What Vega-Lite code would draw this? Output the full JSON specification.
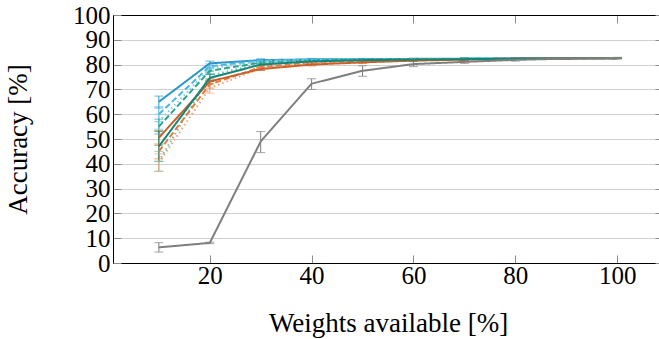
{
  "$schema": "https://vega.github.io/schema/vega-lite/v6.json",
  "width": 550,
  "height": 248,
  "autosize": {"type": "none"},
  "padding": {"left": 113, "top": 15, "right": 0, "bottom": 76},
  "background": "white",
  "config": {
    "view": {"stroke": null},
    "axis": {
      "labelFont": "'Liberation Serif', 'Times New Roman', Times, serif", "titleFont": "'Liberation Serif', 'Times New Roman', Times, serif",
      "labelFontSize": 25, "titleFontSize": 27, "labelColor": "black", "titleColor": "black",
      "titleFontWeight": "normal", "domainColor": "black", "domainWidth": 1,
      "labelOverlap": false, "labelFlush": false,
      "tickColor": "#8c8c8c", "gridColor": "#d0d0d0", "gridWidth": 1
    }
  },
  "data": {"values": [
    {"s":"b1","x":10,"y":65,"lo":62.5,"hi":67.3},{"s":"b1","x":20,"y":80.5,"lo":79.5,"hi":81.4},{"s":"b1","x":30,"y":81.8,"lo":81.3,"hi":82.3},{"s":"b1","x":40,"y":82.1,"lo":81.7,"hi":82.5},{"s":"b1","x":50,"y":82.2,"lo":81.9,"hi":82.5},{"s":"b1","x":60,"y":82.3,"lo":82,"hi":82.6},{"s":"b1","x":70,"y":82.4,"lo":82.1,"hi":82.7},{"s":"b1","x":80,"y":82.5,"lo":82.2,"hi":82.8},{"s":"b1","x":90,"y":82.6,"lo":82.4,"hi":82.8},{"s":"b1","x":100,"y":82.7,"lo":82.5,"hi":82.9},
    {"s":"b2","x":10,"y":60,"lo":57,"hi":63},{"s":"b2","x":20,"y":79.3,"lo":78.3,"hi":80.3},{"s":"b2","x":30,"y":81.6,"lo":81.1,"hi":82.1},{"s":"b2","x":40,"y":82,"lo":81.6,"hi":82.4},{"s":"b2","x":50,"y":82.1,"lo":81.8,"hi":82.4},{"s":"b2","x":60,"y":82.2,"lo":81.9,"hi":82.5},{"s":"b2","x":70,"y":82.3,"lo":82,"hi":82.6},{"s":"b2","x":80,"y":82.4,"lo":82.2,"hi":82.7},{"s":"b2","x":90,"y":82.5,"lo":82.3,"hi":82.7},{"s":"b2","x":100,"y":82.6,"lo":82.4,"hi":82.8},
    {"s":"b3","x":10,"y":57,"lo":54,"hi":60},{"s":"b3","x":20,"y":78.5,"lo":77.3,"hi":79.7},{"s":"b3","x":30,"y":81.3,"lo":80.8,"hi":81.8},{"s":"b3","x":40,"y":81.8,"lo":81.4,"hi":82.2},{"s":"b3","x":50,"y":82,"lo":81.7,"hi":82.3},{"s":"b3","x":60,"y":82.2,"lo":81.9,"hi":82.5},{"s":"b3","x":70,"y":82.3,"lo":82,"hi":82.6},{"s":"b3","x":80,"y":82.4,"lo":82.2,"hi":82.7},{"s":"b3","x":90,"y":82.5,"lo":82.3,"hi":82.7},{"s":"b3","x":100,"y":82.6,"lo":82.4,"hi":82.8},
    {"s":"t2","x":10,"y":55,"lo":52,"hi":58},{"s":"t2","x":20,"y":77.5,"lo":76.3,"hi":78.7},{"s":"t2","x":30,"y":80.8,"lo":80.3,"hi":81.3},{"s":"t2","x":40,"y":81.6,"lo":81.2,"hi":82},{"s":"t2","x":50,"y":82,"lo":81.7,"hi":82.3},{"s":"t2","x":60,"y":82.1,"lo":81.8,"hi":82.4},{"s":"t2","x":70,"y":82.3,"lo":82,"hi":82.6},{"s":"t2","x":80,"y":82.4,"lo":82.2,"hi":82.7},{"s":"t2","x":90,"y":82.5,"lo":82.3,"hi":82.7},{"s":"t2","x":100,"y":82.6,"lo":82.4,"hi":82.8},
    {"s":"t3","x":10,"y":41,"lo":37,"hi":45},{"s":"t3","x":20,"y":75.5,"lo":73.5,"hi":77.5},{"s":"t3","x":30,"y":80.5,"lo":79.9,"hi":81.1},{"s":"t3","x":40,"y":81.5,"lo":81.1,"hi":81.9},{"s":"t3","x":50,"y":81.9,"lo":81.6,"hi":82.2},{"s":"t3","x":60,"y":82.1,"lo":81.8,"hi":82.4},{"s":"t3","x":70,"y":82.3,"lo":82,"hi":82.6},{"s":"t3","x":80,"y":82.4,"lo":82.2,"hi":82.7},{"s":"t3","x":90,"y":82.5,"lo":82.3,"hi":82.7},{"s":"t3","x":100,"y":82.6,"lo":82.4,"hi":82.8},
    {"s":"o2","x":10,"y":45,"lo":42,"hi":48},{"s":"o2","x":20,"y":72,"lo":70.5,"hi":73.5},{"s":"o2","x":30,"y":79,"lo":78.4,"hi":79.6},{"s":"o2","x":40,"y":80.8,"lo":80.3,"hi":81.3},{"s":"o2","x":50,"y":81.5,"lo":81.1,"hi":81.9},{"s":"o2","x":60,"y":82,"lo":81.7,"hi":82.3},{"s":"o2","x":70,"y":82.2,"lo":81.9,"hi":82.5},{"s":"o2","x":80,"y":82.4,"lo":82.2,"hi":82.7},{"s":"o2","x":90,"y":82.5,"lo":82.3,"hi":82.7},{"s":"o2","x":100,"y":82.6,"lo":82.4,"hi":82.8},
    {"s":"o3","x":10,"y":40.5,"lo":37,"hi":44},{"s":"o3","x":20,"y":70.5,"lo":68.5,"hi":72.5},{"s":"o3","x":30,"y":78.5,"lo":77.8,"hi":79.2},{"s":"o3","x":40,"y":80.5,"lo":80,"hi":81},{"s":"o3","x":50,"y":81.3,"lo":80.9,"hi":81.7},{"s":"o3","x":60,"y":81.8,"lo":81.5,"hi":82.1},{"s":"o3","x":70,"y":82.2,"lo":81.9,"hi":82.5},{"s":"o3","x":80,"y":82.4,"lo":82.2,"hi":82.7},{"s":"o3","x":90,"y":82.5,"lo":82.3,"hi":82.7},{"s":"o3","x":100,"y":82.6,"lo":82.4,"hi":82.8},
    {"s":"o1","x":10,"y":50.5,"lo":47.5,"hi":53.5},{"s":"o1","x":20,"y":73.2,"lo":72.2,"hi":74.2},{"s":"o1","x":30,"y":78.2,"lo":77.6,"hi":78.8},{"s":"o1","x":40,"y":80,"lo":79.5,"hi":80.5},{"s":"o1","x":50,"y":80.9,"lo":80.5,"hi":81.3},{"s":"o1","x":60,"y":81.6,"lo":81.3,"hi":81.9},{"s":"o1","x":70,"y":82,"lo":81.7,"hi":82.3},{"s":"o1","x":80,"y":82.3,"lo":82.1,"hi":82.6},{"s":"o1","x":90,"y":82.5,"lo":82.3,"hi":82.7},{"s":"o1","x":100,"y":82.6,"lo":82.4,"hi":82.8},
    {"s":"t1","x":10,"y":47,"lo":41,"hi":53},{"s":"t1","x":20,"y":74.6,"lo":73.2,"hi":76},{"s":"t1","x":30,"y":80,"lo":79.5,"hi":80.5},{"s":"t1","x":40,"y":81.3,"lo":80.9,"hi":81.7},{"s":"t1","x":50,"y":81.8,"lo":81.5,"hi":82.1},{"s":"t1","x":60,"y":82,"lo":81.7,"hi":82.3},{"s":"t1","x":70,"y":82.2,"lo":81.9,"hi":82.5},{"s":"t1","x":80,"y":82.4,"lo":82.2,"hi":82.7},{"s":"t1","x":90,"y":82.5,"lo":82.3,"hi":82.7},{"s":"t1","x":100,"y":82.6,"lo":82.4,"hi":82.8},
    {"s":"g","x":10,"y":6.3,"lo":4.4,"hi":8.2},{"s":"g","x":20,"y":8.1,"lo":7.8,"hi":8.4},{"s":"g","x":30,"y":49,"lo":44.5,"hi":53},{"s":"g","x":40,"y":72.3,"lo":70,"hi":74.3},{"s":"g","x":50,"y":77.5,"lo":75.3,"hi":79.5},{"s":"g","x":60,"y":80.2,"lo":79.2,"hi":81.2},{"s":"g","x":70,"y":81.1,"lo":80.5,"hi":81.7},{"s":"g","x":80,"y":81.9,"lo":81.4,"hi":82.4},{"s":"g","x":90,"y":82.4,"lo":82.1,"hi":82.8},{"s":"g","x":100,"y":82.7,"lo":82.5,"hi":82.9}
  ]},
  "resolve": {"axis": {"x": "independent", "y": "independent"}},
  "layer": [
    {
      "mark": {"type": "rule", "strokeWidth": 1},
      "encoding": {
        "x": {"field": "x", "type": "quantitative", "scale": {"domain": [1, 109], "nice": false},
              "axis": {"orient": "top", "values": [20, 40, 60, 80, 100], "labels": false, "title": null, "grid": false, "tickSize": -8, "domain": true}},
        "y": {"field": "lo", "type": "quantitative", "scale": {"domain": [0, 100], "nice": false},
              "axis": {"orient": "right", "values": [0,10,20,30,40,50,60,70,80,90,100], "labels": false, "title": null, "grid": false, "tickSize": -8, "domain": true}},
        "y2": {"field": "hi"},
        "color": {"field": "s", "type": "nominal", "legend": null,
                  "scale": {"domain": ["b1","b2","b3","t2","t3","o2","o3","o1","t1","g"],
                            "range": ["#2a97cc","#49b6e4","#7fcbee","#2ba58f","#62c2ad","#e67a3c","#f2a27a","#c9622a","#10877a","#7f7f7f"]}}
      }
    },
    {
      "mark": {"type": "tick", "orient": "horizontal", "size": 9, "thickness": 1},
      "encoding": {
        "x": {"field": "x", "type": "quantitative", "scale": {"domain": [1, 109], "nice": false}, "axis": null},
        "y": {"field": "lo", "type": "quantitative", "scale": {"domain": [0, 100], "nice": false}, "axis": null},
        "color": {"field": "s", "type": "nominal", "legend": null}
      }
    },
    {
      "mark": {"type": "tick", "orient": "horizontal", "size": 9, "thickness": 1},
      "encoding": {
        "x": {"field": "x", "type": "quantitative", "scale": {"domain": [1, 109], "nice": false}, "axis": null},
        "y": {"field": "hi", "type": "quantitative", "scale": {"domain": [0, 100], "nice": false}, "axis": null},
        "color": {"field": "s", "type": "nominal", "legend": null}
      }
    },
    {
      "mark": {"type": "line", "strokeWidth": 2},
      "encoding": {
        "x": {"field": "x", "type": "quantitative", "scale": {"domain": [1, 109], "nice": false},
              "axis": {"orient": "bottom", "values": [20, 40, 60, 80, 100], "title": "Weights available [%]", "grid": false, "tickSize": -8, "labelPadding": 8, "titlePadding": 22}},
        "y": {"field": "y", "type": "quantitative", "scale": {"domain": [0, 100], "nice": false},
              "axis": {"orient": "left", "values": [0,10,20,30,40,50,60,70,80,90,100], "title": "Accuracy [%]", "grid": true, "tickSize": -8, "labelPadding": 11, "titlePadding": 40}},
        "color": {"field": "s", "type": "nominal", "legend": null},
        "strokeDash": {"field": "s", "type": "nominal", "legend": null,
                       "scale": {"domain": ["b1","b2","b3","t2","t3","o2","o3","o1","t1","g"],
                                 "range": [[1,0],[6,3],[1.5,3],[6,3],[1.5,3],[6,3],[1.5,3],[1,0],[1,0],[1,0]]}}
      }
    }
  ]
}
